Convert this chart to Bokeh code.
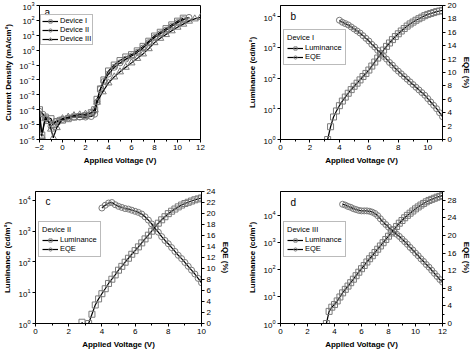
from bokeh.plotting import figure
from bokeh.models import (Range1d, LinearAxis, FixedTicker, Legend, LegendItem, Label,
                          LinearScale)
from bokeh.layouts import column, row
from bokeh.embed import file_html
from bokeh.resources import INLINE

FONT = "Liberation Sans"

# ---------------- Panel a: current density ----------------
v_dev1 = [-2, -1.8, -1.5, -1.0, -0.8, -0.5, 0, 0.5, 1, 1.5, 2, 2.5, 2.8, 3.0, 3.3, 3.6,
          4, 4.5, 5, 5.5, 6, 6.5, 7, 7.5, 8, 8.5, 9, 9.5, 10, 10.5]
j_dev1 = [1.0e-4, 2.0e-6, 3.2e-5, 2.5e-5, 1.0e-5, 1.6e-5, 2.0e-5, 2.5e-5, 3.2e-5, 3.5e-5,
          4.0e-5, 6.3e-5, 1.0e-4, 5.0e-4, 2.5e-3, 1.0e-2, 4.0e-2, 0.1, 0.2, 0.35, 0.5, 0.9,
          1.8, 4.0, 8.9, 16, 28, 50, 89, 141]
v_dev2 = [-2, -1.7, -1.4, -1, -0.6, -0.3, 0, 0.5, 1, 1.5, 2, 2.5, 2.8, 3.0, 3.3, 3.6, 4,
          4.5, 5, 5.5, 6, 6.5, 7, 7.5, 8, 8.5, 9, 9.5, 10, 10.5, 11]
j_dev2 = [7.9e-5, 5.0e-5, 2.5e-5, 7.9e-6, 1.6e-5, 2.0e-5, 2.2e-5, 2.8e-5, 3.2e-5, 3.2e-5,
          3.2e-5, 3.5e-5, 5.0e-5, 3.2e-4, 2.5e-3, 7.9e-3, 2.5e-2, 7.1e-2, 0.14, 0.25, 0.4,
          0.71, 1.4, 3.2, 7.1, 12.6, 22, 40, 71, 112, 158]
v_dev3 = [-2, -1.8, -1.5, -1.2, -1.0, -0.8, -0.5, 0, 0.5, 1, 1.5, 2, 2.5, 2.8, 3.0, 3.5,
          4, 4.5, 5, 5.5, 6, 6.5, 7, 7.5, 8, 8.5, 9, 9.5, 10, 10.5, 11, 11.5, 12]
j_dev3 = [5.0e-5, 1.6e-6, 2.5e-5, 1.6e-5, 5.0e-6, 1.3e-6, 6.3e-6, 2.5e-5, 3.2e-5, 4.0e-5,
          4.5e-5, 5.0e-5, 6.3e-5, 1.0e-4, 3.2e-4, 1.6e-3, 6.3e-3, 1.6e-2, 3.5e-2, 7.1e-2,
          0.14, 0.28, 0.56, 1.26, 3.2, 6.3, 11.2, 20, 35, 56, 89, 126, 158]

# ---------------- Panel b: Device I ----------------
v_lum_b = [3.2, 3.4, 3.6, 3.8, 4.0, 4.2, 4.4, 4.6, 4.8, 5.0, 5.2, 5.4, 5.6, 5.8, 6.0, 6.2,
           6.4, 6.6, 6.8, 7.0, 7.2, 7.4, 7.6, 7.8, 8.0, 8.2, 8.4, 8.6, 8.8, 9.0, 9.2, 9.4,
           9.6, 9.8, 10.0, 10.2, 10.4, 10.6, 10.8, 11.0]
lum_b = [1.0, 2.6, 5.4, 8.5, 12.6, 17.8, 24, 32, 42, 54, 68, 87, 112, 141, 182, 245, 331,
         447, 603, 813, 1072, 1380, 1778, 2239, 2754, 3388, 4074, 4898, 5754, 6607, 7586,
         8511, 9550, 10715, 11750, 12590, 13490, 14450, 15140, 15850]
v_eqe_b = [4.0, 4.2, 4.4, 4.6, 4.8, 5.0, 5.2, 5.4, 5.6, 5.8, 6.0, 6.2, 6.4, 6.6, 6.8, 7.0,
           7.2, 7.4, 7.6, 7.8, 8.0, 8.2, 8.4, 8.6, 8.8, 9.0, 9.2, 9.4, 9.6, 9.8, 10.0, 10.2,
           10.4, 10.6, 10.8, 11.0]
eqe_b = [17.8, 17.5, 17.3, 17.1, 16.8, 16.5, 16.2, 15.9, 15.5, 15.1, 14.7, 14.2, 13.8,
         13.3, 12.9, 12.4, 12.0, 11.5, 11.1, 10.6, 10.2, 9.8, 9.4, 9.0, 8.6, 8.2, 7.8, 7.4,
         7.0, 6.6, 6.1, 5.6, 5.1, 4.6, 4.0, 3.4]

# ---------------- Panel c: Device II ----------------
v_lum_c = [2.8, 3.0, 3.2, 3.4, 3.6, 3.8, 4.0, 4.2, 4.4, 4.6, 4.8, 5.0, 5.2, 5.4, 5.6, 5.8,
           6.0, 6.2, 6.4, 6.6, 6.8, 7.0, 7.2, 7.4, 7.6, 7.8, 8.0, 8.2, 8.4, 8.6, 8.8, 9.0,
           9.2, 9.4, 9.6, 9.8, 10.0]
lum_c = [1.1, 0.3, 1.0, 2.0, 4.0, 6.3, 9.3, 13.5, 20, 27.5, 38, 54, 72, 98, 132, 178, 234,
         309, 417, 562, 741, 1000, 1349, 1820, 2344, 2951, 3715, 4467, 5248, 6166, 7079,
         7943, 8710, 9550, 10470, 11220, 12020]
v_eqe_c = [4.0, 4.2, 4.4, 4.6, 4.8, 5.0, 5.2, 5.4, 5.6, 5.8, 6.0, 6.2, 6.4, 6.6, 6.8, 7.0,
           7.2, 7.4, 7.6, 7.8, 8.0, 8.2, 8.4, 8.6, 8.8, 9.0, 9.2, 9.4, 9.6, 9.8, 10.0]
eqe_c = [21.0, 21.5, 21.9, 22.0, 21.6, 21.3, 21.1, 20.9, 20.8, 20.6, 20.4, 20.2, 19.9,
         19.4, 18.8, 18.1, 17.3, 16.6, 15.8, 15.1, 14.5, 13.8, 13.1, 12.4, 11.8, 11.1,
         10.4, 9.7, 9.0, 8.2, 7.4]

# ---------------- Panel d: Device III ----------------
v_lum_d = [3.4, 3.6, 3.8, 4.0, 4.2, 4.4, 4.6, 4.8, 5.0, 5.2, 5.4, 5.6, 5.8, 6.0, 6.2, 6.4,
           6.6, 6.8, 7.0, 7.2, 7.4, 7.6, 7.8, 8.0, 8.2, 8.4, 8.6, 8.8, 9.0, 9.2, 9.4, 9.6,
           9.8, 10.0, 10.2, 10.4, 10.6, 10.8, 11.0, 11.2, 11.4, 11.6, 11.8, 12.0]
lum_d = [1.0, 2.8, 4.0, 5.0, 6.8, 9.5, 13.5, 18.2, 24, 32, 43, 58, 78, 105, 138, 186, 245,
         316, 417, 550, 724, 955, 1259, 1660, 2188, 2884, 3802, 5012, 6310, 7943, 9772,
         11750, 14130, 16980, 19950, 23440, 26920, 30900, 34670, 38020, 41690, 45710,
         48980, 52480]
v_eqe_d = [4.6, 4.8, 5.0, 5.2, 5.4, 5.6, 5.8, 6.0, 6.2, 6.4, 6.6, 6.8, 7.0, 7.2, 7.4, 7.6,
           7.8, 8.0, 8.2, 8.4, 8.6, 8.8, 9.0, 9.2, 9.4, 9.6, 9.8, 10.0, 10.2, 10.4, 10.6,
           10.8, 11.0, 11.2, 11.4, 11.6, 11.8, 12.0]
eqe_d = [27.1, 26.9, 26.6, 26.4, 26.1, 25.9, 25.7, 25.6, 25.6, 25.6, 25.5, 25.3, 25.0,
         24.5, 23.8, 23.1, 22.5, 21.9, 21.3, 20.8, 20.3, 19.8, 19.2, 18.6, 18.0, 17.3,
         16.7, 16.0, 15.4, 14.7, 14.1, 13.4, 12.8, 12.1, 11.4, 10.7, 10.0, 9.4]

MK_COLOR = "#7a7a7a"
MK_SIZE = 6


def style_axis(ax):
    ax.axis_line_color = "black"
    ax.major_tick_line_color = "black"
    ax.minor_tick_line_color = "black"
    ax.major_tick_out = 3
    ax.major_tick_in = 0
    ax.minor_tick_out = 2
    ax.minor_tick_in = 0
    ax.major_label_text_font = FONT
    ax.major_label_text_font_size = "8px"
    ax.major_label_text_color = "black"
    ax.major_label_standoff = 2
    ax.axis_label_text_font = FONT
    ax.axis_label_text_font_size = "8px"
    ax.axis_label_text_font_style = "bold"
    ax.axis_label_text_color = "black"
    ax.axis_label_standoff = 3


def style_legend(leg):
    leg.label_text_font = FONT
    leg.label_text_font_size = "7.5px"
    leg.label_text_color = "black"
    leg.label_text_line_height = 1.0
    leg.glyph_width = 16
    leg.glyph_height = 8
    leg.label_height = 8
    leg.label_standoff = 2
    leg.spacing = 0
    leg.margin = 0
    leg.border_line_color = "#777777"
    leg.border_line_width = 1


def make_fig(w, h, xr, yr, bl, br, bt, bb, xticks, xminor, yticks, ylabel):
    p = figure(width=w, height=h, x_range=Range1d(*xr), y_range=Range1d(*yr),
               y_axis_type="log", output_backend="svg", toolbar_location=None,
               min_border_left=bl, min_border_right=br, min_border_top=bt,
               min_border_bottom=bb, background_fill_color="white")
    p.outline_line_color = "black"
    p.outline_line_width = 1
    p.grid.visible = False
    p.xaxis.ticker = FixedTicker(ticks=xticks, minor_ticks=xminor)
    p.yaxis.ticker = FixedTicker(ticks=yticks, minor_ticks=[])
    p.xaxis.axis_label = "Applied Voltage (V)"
    p.yaxis.axis_label = ylabel
    for ax in p.axis:
        style_axis(ax)
    return p


def panel_label(p, txt, x, y):
    p.add_layout(Label(x=x, y=y, x_units="screen", y_units="screen", text=txt,
                       text_font=FONT, text_font_size="10px", text_color="black"))


def lum_eqe_panel(w, h, xr, yr, eqe_top, bl, br, bt, bb, xticks, xminor, eqe_ticks,
                  eqe_minor, vl, lum, ve, eqe, device, letter, leg_loc):
    p = make_fig(w, h, xr, yr, bl, br, bt, bb, xticks, xminor,
                 [1, 10, 100, 1000, 10000], "Luminance (cd/m²)")
    p.extra_y_ranges = {"eqe": Range1d(0, eqe_top)}
    p.extra_y_scales = {"eqe": LinearScale()}
    rax = LinearAxis(y_range_name="eqe", axis_label="EQE (%)",
                     ticker=FixedTicker(ticks=eqe_ticks, minor_ticks=eqe_minor))
    style_axis(rax)
    p.add_layout(rax, "right")
    l1 = p.line(vl, lum, line_color="black", line_width=1.2)
    s1 = p.scatter(vl, lum, marker="square", size=MK_SIZE, line_color=MK_COLOR,
                   fill_color=None, line_width=1)
    l2 = p.line(ve, eqe, line_color="black", line_width=1.2, y_range_name="eqe")
    s2 = p.scatter(ve, eqe, marker="circle", size=MK_SIZE, line_color=MK_COLOR,
                   fill_color=None, line_width=1, y_range_name="eqe")
    leg = Legend(items=[LegendItem(label="Luminance", renderers=[l1, s1]),
                        LegendItem(label="EQE", renderers=[l2, s2])],
                 title=device, location=leg_loc)
    style_legend(leg)
    leg.title_text_font = FONT
    leg.title_text_font_size = "7.5px"
    leg.title_text_font_style = "normal"
    leg.title_text_color = "black"
    leg.title_standoff = 1
    leg.padding = 3
    p.add_layout(leg)
    panel_label(p, letter, 10, p.height - bt - bb - 16)
    return p


# ---- Panel a ----
pa = make_fig(237, 175, (-2, 12), (1e-6, 1e3), 39, 37, 5, 36,
              [-2, 0, 2, 4, 6, 8, 10, 12], [-1, 1, 3, 5, 7, 9, 11],
              [1e-6, 1e-5, 1e-4, 1e-3, 1e-2, 1e-1, 1, 10, 100, 1000],
              "Current Density (mA/cm²)")
la1 = pa.line(v_dev1, j_dev1, line_color="black", line_width=1.2)
sa1 = pa.scatter(v_dev1, j_dev1, marker="square", size=MK_SIZE, line_color=MK_COLOR,
                 fill_color=None)
la2 = pa.line(v_dev2, j_dev2, line_color="black", line_width=1.2)
sa2 = pa.scatter(v_dev2, j_dev2, marker="circle", size=MK_SIZE, line_color=MK_COLOR,
                 fill_color=None)
la3 = pa.line(v_dev3, j_dev3, line_color="black", line_width=1.2)
sa3 = pa.scatter(v_dev3, j_dev3, marker="triangle", size=MK_SIZE + 1,
                 line_color=MK_COLOR, fill_color=None)
lega = Legend(items=[LegendItem(label="Device I", renderers=[la1, sa1]),
                     LegendItem(label="Device II", renderers=[la2, sa2]),
                     LegendItem(label="Device III", renderers=[la3, sa3])],
              location=(1, 94))
style_legend(lega)
lega.padding = 1
pa.add_layout(lega)
panel_label(pa, "a", 5, 122)

# ---- Panel b ----
pb = lum_eqe_panel(237, 175, (0, 11), (1, 10 ** 4.36), 20, 43, 26, 5, 36,
                   [0, 2, 4, 6, 8, 10], [1, 3, 5, 7, 9, 11],
                   list(range(0, 21, 2)), [], v_lum_b, lum_b, v_eqe_b, eqe_b,
                   "Device I", "b", (3, 74))

# ---- Panel c ----
pc = lum_eqe_panel(237, 176, (0, 10), (1, 10 ** 4.29), 24, 32, 36, 15, 28,
                   [0, 2, 4, 6, 8, 10], [1, 3, 5, 7, 9],
                   list(range(0, 25, 2)), [], v_lum_c, lum_c, v_eqe_c, eqe_c,
                   "Device II", "c", (3, 66))

# ---- Panel d ----
pd = lum_eqe_panel(237, 176, (0, 12), (1, 10 ** 4.87), 30, 43, 26, 16, 28,
                   [0, 2, 4, 6, 8, 10, 12], [1, 3, 5, 7, 9, 11],
                   list(range(0, 29, 4)), [2, 6, 10, 14, 18, 22, 26, 30],
                   v_lum_d, lum_d, v_eqe_d, eqe_d, "Device III", "d", (3, 66))

layout = column(row(pa, pb, spacing=0), row(pc, pd, spacing=0), spacing=0)
open("out.html", "w").write(file_html(layout, INLINE))
